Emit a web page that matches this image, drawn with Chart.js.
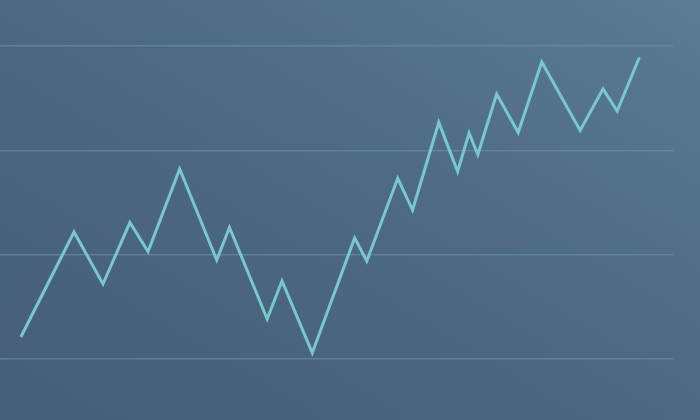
<!DOCTYPE html>
<html>
<head>
<meta charset="utf-8">
<script src="https://cdn.jsdelivr.net/npm/chart.js@4/dist/chart.umd.min.js"></script>
<style>
  html, body { margin: 0; padding: 0; }
  body { width: 700px; height: 420px; overflow: hidden;
         background: linear-gradient(to top right, #455e79 0%, #4c6883 50%, #5a7b93 100%); }
  #wrap { position: relative; width: 700px; height: 420px; }
</style>
</head>
<body>
<div id="wrap"><canvas id="c"></canvas></div>
<script>
const xValues = [3.1, 11.0, 15.3, 19.3, 22.0, 26.7, 32.2, 34.1, 39.7, 41.9, 46.4, 52.7, 54.5, 59.1, 61.3, 65.2, 68.0, 69.7, 71.0, 73.8, 77.0, 80.5, 86.2, 89.6, 91.7, 95.0];
const yValues = [21.1, 121.7, 71.9, 130.8, 103.0, 182.1, 94.9, 126.0, 38.3, 74.8, 5.8, 116.0, 93.9, 173.2, 142.8, 226.7, 179.7, 216.6, 196.0, 254.0, 217.1, 284.7, 219.0, 258.8, 237.7, 289.0];
const yTicks = [0, 100, 200, 300];

const points = xValues.map((x, i) => ({ x: x, y: yValues[i] }));

new Chart(document.getElementById('c'), {
  type: 'line',
  data: {
    datasets: [{
      data: points,
      borderColor: '#7ac8cc',
      borderWidth: 3,
      borderJoinStyle: 'miter',
      tension: 0,
      pointRadius: 0,
      fill: false
    }]
  },
  options: {
    responsive: true,
    maintainAspectRatio: false,
    animation: false,
    layout: { padding: { top: 46, bottom: 61, left: 0, right: 27 } },
    plugins: { legend: { display: false }, tooltip: { enabled: false } },
    scales: {
      x: {
        type: 'linear', min: 0, max: 100,
        display: false
      },
      y: {
        min: 0, max: 300,
        afterBuildTicks: (axis) => { axis.ticks = yTicks.map(v => ({ value: v })); },
        grid: { color: 'rgba(110,150,175,0.55)', lineWidth: 1.5, drawTicks: false },
        border: { display: false },
        ticks: { display: false }
      }
    }
  }
});
</script>
</body>
</html>
